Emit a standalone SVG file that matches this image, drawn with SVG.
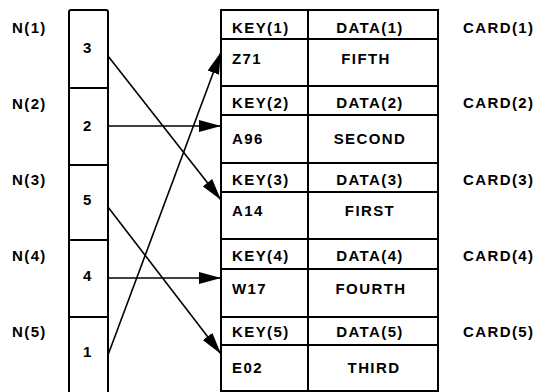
<svg xmlns="http://www.w3.org/2000/svg" width="537" height="392" viewBox="0 0 537 392">
<style>
text{font-family:"Liberation Sans",Arial,sans-serif;font-weight:bold;font-size:15px;letter-spacing:1.4px;fill:#000}
.m{text-anchor:middle}
.box{fill:#fff;stroke:#000;stroke-width:2}
.ln{stroke:#000;stroke-width:2;fill:none}
.ar{stroke:#000;stroke-width:1.6;fill:none;marker-end:url(#ah)}
</style>
<defs>
<marker id="ah" viewBox="0 0 22 12" refX="22" refY="6" markerWidth="22" markerHeight="12" markerUnits="userSpaceOnUse" orient="auto">
<path d="M0,0 L22,6 L0,12 Z" fill="#000"/>
</marker>
</defs>
<rect width="537" height="392" fill="#fff"/>
<g id="n-labels">
<text x="12" y="33">N(1)</text>
<text x="12" y="109">N(2)</text>
<text x="12" y="185">N(3)</text>
<text x="12" y="261">N(4)</text>
<text x="12" y="337">N(5)</text>
</g>
<g id="n-array">
<path class="ln" d="M69,394 V12 Q69,10 71,10 H106 Q108,10 108,12 V394"/>
<path class="ln" d="M69,88 H108 M69,165 H108 M69,240 H108 M69,317 H108"/>
<text x="83" y="53">3</text>
<text x="83" y="131">2</text>
<text x="83" y="205">5</text>
<text x="83" y="281">4</text>
<text x="83" y="357">1</text>
</g>
<g id="cards">
<rect class="box" x="221" y="10" width="217" height="381"/>
<path class="ln" d="M308,10 V391 M221,39 H438 M221,86 H438 M221,115 H438 M221,163 H438 M221,192 H438 M221,239 H438 M221,269 H438 M221,317 H438 M221,345 H438"/>
</g>
<g id="card1">
<text x="232" y="33">KEY(1)</text><text class="m" x="370" y="33">DATA(1)</text>
<text x="232" y="64">Z71</text><text class="m" x="366" y="64">FIFTH</text>
<text x="463" y="33">CARD(1)</text>
</g>
<g id="card2">
<text x="232" y="108">KEY(2)</text><text class="m" x="370" y="108">DATA(2)</text>
<text x="232" y="144">A96</text><text class="m" x="370" y="144">SECOND</text>
<text x="463" y="108">CARD(2)</text>
</g>
<g id="card3">
<text x="232" y="185">KEY(3)</text><text class="m" x="370" y="185">DATA(3)</text>
<text x="232" y="216">A14</text><text class="m" x="370" y="216">FIRST</text>
<text x="463" y="185">CARD(3)</text>
</g>
<g id="card4">
<text x="232" y="261">KEY(4)</text><text class="m" x="370" y="261">DATA(4)</text>
<text x="232" y="294">W17</text><text class="m" x="371" y="294">FOURTH</text>
<text x="463" y="261">CARD(4)</text>
</g>
<g id="card5">
<text x="232" y="337">KEY(5)</text><text class="m" x="370" y="337">DATA(5)</text>
<text x="232" y="373">E02</text><text class="m" x="374" y="373">THIRD</text>
<text x="463" y="337">CARD(5)</text>
</g>
<g id="connectors">
<line class="ar" x1="108" y1="56" x2="221" y2="200"/>
<line class="ar" x1="108" y1="126" x2="221" y2="126"/>
<line class="ar" x1="108" y1="207" x2="221" y2="354"/>
<line class="ar" x1="108" y1="278" x2="221" y2="278"/>
<line class="ar" x1="108" y1="355" x2="221" y2="52"/>
</g>
</svg>
